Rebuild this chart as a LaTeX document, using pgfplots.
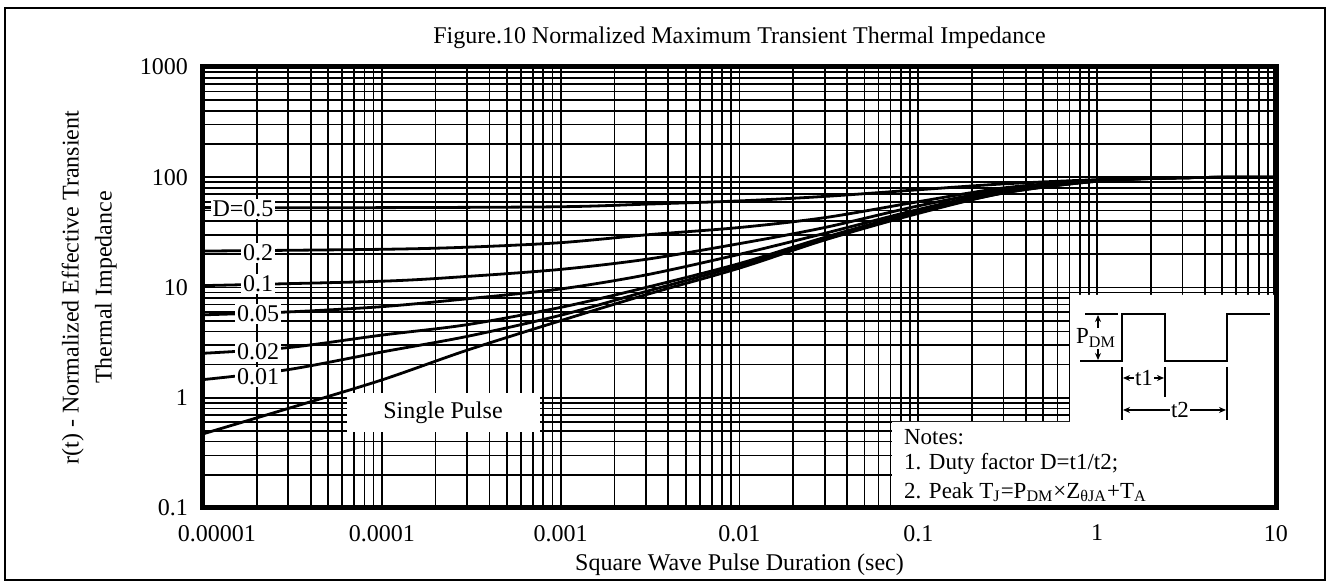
\documentclass[border=0pt]{standalone}
\usepackage{fontspec}
\setmainfont{Liberation Serif}
\usepackage{pgfplots}
\pgfplotsset{compat=1.18}
\usetikzlibrary{arrows.meta}

\begin{document}
\begin{tikzpicture}[font=\fontsize{12}{14}\selectfont]
\useasboundingbox (-101.5pt,-37pt) rectangle (563pt,254pt);
\begin{axis}[
    name=ax, at={(0,0)}, anchor=south west,
    scale only axis, width=536.5pt, height=220.5pt,
    xmode=log, ymode=log,
    xmin=1e-5, xmax=10, ymin=0.1, ymax=1000,
    xtick={1e-5,1e-4,1e-3,1e-2,1e-1,1,10},
    xticklabels={\hspace*{14pt}0.00001,0.0001,0.001,0.01,0.1,1,10},
    ytick={0.1,1,10,100,1000},
    yticklabels={0.1,1,10,100,1000},
    minor xtick={2e-5,3e-5,4e-5,5e-5,6e-5,7e-5,8e-5,9e-5,
                 2e-4,3e-4,4e-4,5e-4,6e-4,7e-4,8e-4,9e-4,
                 2e-3,3e-3,4e-3,5e-3,6e-3,7e-3,8e-3,9e-3,
                 2e-2,3e-2,4e-2,5e-2,6e-2,7e-2,8e-2,9e-2,
                 0.2,0.3,0.4,0.5,0.6,0.7,0.8,0.9,
                 2,3,4,5,6,7,8,9},
    minor ytick={0.2,0.3,0.4,0.5,0.6,0.7,0.8,0.9,
                 2,3,4,5,6,7,8,9,
                 20,30,40,50,60,70,80,90,
                 200,300,400,500,600,700,800,900},
    grid=both,
    major grid style={black, line width=0.85pt},
    minor grid style={black, line width=0.85pt},
    major tick length=0pt, minor tick length=0pt,
    axis line style={line width=2.5pt},
    /pgf/number format/assume math mode=true,
    tick label style={font=\fontsize{12}{14}\selectfont},
    xticklabel style={yshift=-5pt},
    yticklabel style={xshift=-4pt},
    xlabel={Square Wave Pulse Duration (sec)},
    xlabel style={at={(axis description cs:0.5,-0.128)}, anchor=center},
    ylabel={r(t) - Normalized Effective Transient\\Thermal Impedance},
    ylabel style={at={(axis description cs:-0.106,0.5)}, anchor=center,
                  align=center, font=\fontsize{12}{16.5}\selectfont},
    title={Figure.10 Normalized Maximum Transient Thermal Impedance},
    title style={at={(axis description cs:0.5,1.039)}, anchor=center, yshift=0pt},
]

% D = 0.5
\addplot[black, line width=1.4pt, smooth] coordinates {
    (1e-5,53) (1e-4,53) (1e-3,54) (3e-3,57) (1e-2,61) (3e-2,67)
    (0.1,77) (0.3,87) (1,95) (3,99) (10,100)
};
% D = 0.2
\addplot[black, line width=1.4pt, smooth] coordinates {
    (1e-5,21.4) (1e-4,22.2) (3e-4,23.2) (1e-3,25.5) (3e-3,30) (1e-2,35)
    (3e-2,43) (0.1,60) (0.3,80) (1,94) (3,99) (10,100)
};
% D = 0.1
\addplot[black, line width=1.4pt, smooth] coordinates {
    (1e-5,10.4) (1e-4,11.4) (3e-4,12.6) (1e-3,14.6) (3e-3,18) (1e-2,25)
    (3e-2,35) (0.1,55) (0.3,77) (1,93.5) (3,99) (10,100)
};
% D = 0.05
\addplot[black, line width=1.4pt, smooth] coordinates {
    (1e-5,5.65) (3e-5,6.0) (1e-4,6.7) (3e-4,7.9) (1e-3,9.7) (3e-3,13)
    (1e-2,20) (3e-2,31) (0.1,51) (0.3,75) (1,93) (3,99) (10,100)
};
% D = 0.02
\addplot[black, line width=1.4pt, smooth] coordinates {
    (1e-5,2.53) (3e-5,2.85) (1e-4,3.7) (3e-4,4.6) (1e-3,6.6) (3e-3,10)
    (1e-2,16.5) (3e-2,28.5) (0.1,49) (0.3,73) (1,92.5) (3,99) (10,100)
};
% D = 0.01
\addplot[black, line width=1.4pt, smooth] coordinates {
    (1e-5,1.46) (3e-5,1.8) (1e-4,2.6) (3e-4,3.6) (1e-3,5.6) (3e-3,9.2)
    (1e-2,15.8) (3e-2,27.5) (0.1,48) (0.3,72) (1,92) (3,99) (10,100)
};
% single pulse
\addplot[black, line width=1.4pt, smooth] coordinates {
    (1e-5,0.47) (3e-5,0.8) (1e-4,1.45) (3e-4,2.7) (1e-3,5.0) (3e-3,8.6)
    (1e-2,15) (3e-2,27) (0.1,47) (0.3,72) (1,92) (3,99) (10,100)
};
\end{axis}

% annotations, in pixel units of the reference
\begin{scope}[x=0.5pt, y=-0.5pt, shift={(-101.5pt,254pt)}]
  \fill[white] (347,393) rectangle (540,432);
  \node at (443,413) {Single Pulse};
  \fill[white] (1070,295) -- (1276,295) -- (1276,508) -- (892,508)
               -- (892,422) -- (1070,422) -- cycle;

  \begin{scope}[every node/.style={fill=white, inner sep=1pt,
                font=\fontsize{12}{14}\selectfont}]
    \node at (243,209) {D=0.5};
    \node at (258,253) {0.2};
    \node at (258,284) {0.1};
    \node at (258,314) {0.05};
    \node at (258,352) {0.02};
    \node at (258,377) {0.01};
  \end{scope}

  \begin{scope}[font=\fontsize{11.5}{13}\selectfont]
    \node[anchor=west] at (897,437) {Notes:};
    \node[anchor=west] at (897,464) {1. Duty factor D=t1/t2;};
    \node[anchor=west] at (897,492)
      {2. Peak T\textsubscript{J}=P\textsubscript{DM}×Z\textsubscript{θJA}+T\textsubscript{A}};

    % waveform
    \draw[line width=0.8pt] (1080,361) -- (1122,361) -- (1122,314) -- (1165,314)
        -- (1165,361) -- (1227,361) -- (1227,314) -- (1270,314);
    \draw[line width=0.8pt] (1085,314) -- (1118,314);
    \node[inner sep=0pt] at (1096,338) {P\textsubscript{DM}};
    \draw[line width=0.6pt, -{Stealth[length=3.5pt,width=3pt]}] (1098,328) -- (1098,315);
    \draw[line width=0.6pt, -{Stealth[length=3.5pt,width=3pt]}] (1098,349) -- (1098,360);
    % t1, t2
    \draw[line width=0.8pt] (1122,367) -- (1122,420);
    \draw[line width=0.8pt] (1165,367) -- (1165,397);
    \draw[line width=0.8pt] (1227,367) -- (1227,420);
    \draw[line width=0.6pt, {Stealth[length=3.5pt,width=3pt]}-{Stealth[length=3.5pt,width=3pt]}]
        (1123,378) -- (1164,378);
    \node[fill=white, inner sep=0.5pt] at (1144,378) {t1};
    \draw[line width=0.6pt, {Stealth[length=3.5pt,width=3pt]}-{Stealth[length=3.5pt,width=3pt]}]
        (1123,410) -- (1226,410);
    \node[fill=white, inner sep=0.5pt] at (1180,410) {t2};
  \end{scope}
\end{scope}

% frame on top of the white areas, and outer border
\draw[line width=2.5pt] (0,0) rectangle (536.5pt,220.5pt);
\draw[line width=1pt] (-99pt,-36pt) rectangle (561pt,250pt);
\end{tikzpicture}
\end{document}
